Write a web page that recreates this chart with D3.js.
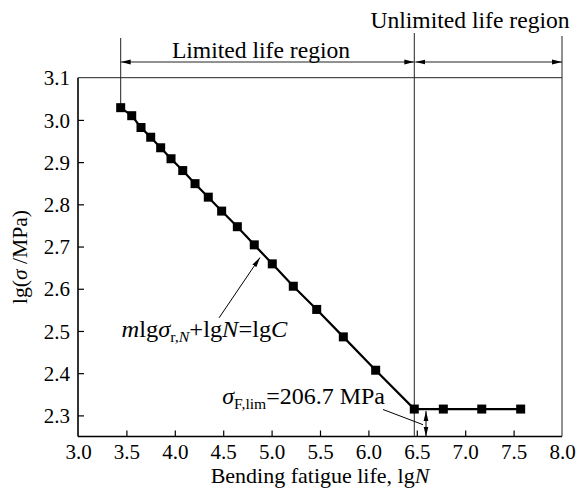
<!DOCTYPE html>
<html><head><meta charset="utf-8">
<script src="https://cdn.jsdelivr.net/npm/d3@7"></script>
<style>
html,body{margin:0;padding:0;background:#fff;}
</style></head>
<body><svg id="c" width="580" height="491"></svg>
<script>
// data
const lgN   = [3.441,3.555,3.651,3.751,3.854,3.961,4.082,4.209,4.346,4.484,4.646,4.821,5.007,5.224,5.466,5.741,6.075,6.474,6.774,7.171,7.573];
const lgSig = [3.029,3.010,2.982,2.959,2.934,2.908,2.880,2.849,2.817,2.784,2.747,2.704,2.659,2.606,2.551,2.486,2.407,2.315,2.315,2.315,2.315];
const xTicks = [3.0,3.5,4.0,4.5,5.0,5.5,6.0,6.5,7.0,7.5,8.0];
const yTicks = [2.3,2.4,2.5,2.6,2.7,2.8,2.9,3.0,3.1];
const kneeIndex = 17;

const FONT = "'Liberation Serif','Times New Roman',Times,Tinos";
const svg = d3.select("#c");
const x = d3.scaleLinear().domain([3,8]).range([78,562]);
const y = d3.scaleLinear().domain([2.25,3.1]).range([436.5,77.7]);
const FS = 20;   // base font size (serif only available up to ~21px, larger text is scaled)

const defs = svg.append("defs");
function mk(id, dir){
  const m = defs.append("marker").attr("id",id).attr("viewBox","0 0 10 6")
    .attr("refX", dir==="end"?10:0).attr("refY",3).attr("markerWidth",10).attr("markerHeight",6)
    .attr("markerUnits","userSpaceOnUse").attr("orient","auto");
  m.append("path").attr("d", dir==="end"?"M0,0.6L10,3L0,5.4Z":"M10,0.6L0,3L10,5.4Z").attr("fill","#000");
}
mk("ae","end"); mk("as","start");

function txt(sel){ return sel.style("font-family",FONT).attr("fill","#000"); }
function stext(px,py,kx,ky,rot){
  return txt(svg.append("text")).attr("x",0).attr("y",0).attr("font-size",FS)
    .attr("transform",`translate(${px},${py})${rot?` rotate(${rot})`:""} scale(${kx},${ky})`);
}

// axes
const gx = svg.append("g").attr("transform",`translate(0,${y(2.25)})`)
  .call(d3.axisBottom(x).tickValues(xTicks).tickFormat(d3.format(".1f")).tickSizeInner(-6).tickSizeOuter(0).tickPadding(8));
const gy = svg.append("g").attr("transform",`translate(${x(3)},0)`)
  .call(d3.axisLeft(y).tickValues(yTicks).tickFormat(d3.format(".1f")).tickSizeInner(-6).tickSizeOuter(0).tickPadding(8));
[gx,gy].forEach(g=>{
  g.attr("font-family",null).attr("font-size",null);
  g.select(".domain").attr("stroke","#000").attr("stroke-width",1.6);
  g.selectAll(".tick line").attr("stroke","#000").attr("stroke-width",1.2);
  txt(g.selectAll(".tick text")).attr("font-size",21);
});
gy.selectAll(".tick text").attr("dy","0.34em");
gy.select(".domain").attr("d",`M0,${y(3.1)}V${y(2.25)}`);
gx.select(".domain").attr("d",`M${x(3)},0H${x(8)}`);
gx.selectAll(".tick").filter(d=>d===3||d===8).select("line").remove();
gy.selectAll(".tick").filter(d=>d===3.1).select("line").remove();

// top frame
svg.append("line").attr("x1",x(3)).attr("x2",x(8)).attr("y1",y(3.1)).attr("y2",y(3.1)).attr("stroke","#222").attr("stroke-width",1);

// region lines
const topArrowY = 62;
function ln(x1,y1,x2,y2,opt={}){
  const l = svg.append("line").attr("x1",x1).attr("y1",y1).attr("x2",x2).attr("y2",y2)
    .attr("stroke",opt.stroke||"#222").attr("stroke-width",opt.w||1);
  if(opt.ms) l.attr("marker-start","url(#as)");
  if(opt.me) l.attr("marker-end","url(#ae)");
  return l;
}
ln(x(lgN[0]),38,x(lgN[0]),y(lgSig[0]));
ln(x(lgN[kneeIndex]),33,x(lgN[kneeIndex]),y(2.25));
ln(x(8),36,x(8),y(2.25));
ln(x(lgN[0]),topArrowY,x(lgN[kneeIndex]),topArrowY,{ms:1,me:1});
ln(x(lgN[kneeIndex])+1,topArrowY,x(8),topArrowY,{ms:1,me:1});

stext(261,58.3,1.18,1.18).attr("text-anchor","middle").text("Limited life region");
stext(470,28,1.18,1.18).attr("text-anchor","middle").text("Unlimited life region");

// data line
const pts = lgN.map((v,i)=>[v,lgSig[i]]);
svg.append("path").datum(pts).attr("fill","none").attr("stroke","#000").attr("stroke-width",2.2)
  .attr("d",d3.line().x(d=>x(d[0])).y(d=>y(d[1])));
const ms = 9;
svg.selectAll("rect.pt").data(pts).join("rect").attr("class","pt")
  .attr("x",d=>x(d[0])-ms/2).attr("y",d=>y(d[1])-ms/2).attr("width",ms).attr("height",ms).attr("fill","#000");

// formula annotation
ln(x(4.457),y(2.531),x(4.880),y(2.674),{me:1,stroke:"#000"});
const f = stext(x(3.45),y(2.485),1.22,1.12);
f.append("tspan").attr("font-style","italic").text("m");
f.append("tspan").text("lg");
f.append("tspan").attr("font-style","italic").text("σ");
f.append("tspan").attr("font-size",13).attr("dy",4).text("r,");
f.append("tspan").attr("font-size",13).attr("font-style","italic").text("N");
f.append("tspan").attr("dy",-4).text("+lg");
f.append("tspan").attr("font-style","italic").text("N");
f.append("tspan").text("=lg");
f.append("tspan").attr("font-style","italic").text("C");

// sigma lim annotation
const s = stext(x(4.49),y(2.326),1.2,1.12);
s.append("tspan").attr("font-style","italic").text("σ");
s.append("tspan").attr("font-size",13).attr("dy",4).text("F,lim");
s.append("tspan").attr("dy",-4).text("=206.7 MPa");
ln(x(6.151),y(2.314),x(6.564),y(2.278),{stroke:"#000"});
ln(x(6.595),y(lgSig[kneeIndex])+2,x(6.595),y(2.25),{ms:1,me:1,stroke:"#000"});

// axis titles
const xt = stext((x(3)+x(8))/2,483,1.1,1.05).attr("text-anchor","middle");
xt.append("tspan").text("Bending fatigue life, lg");
xt.append("tspan").attr("font-style","italic").text("N");
const yt = stext(27,(y(3.1)+y(2.25))/2,1.08,1.08,-90).attr("text-anchor","middle");
yt.append("tspan").text("lg(");
yt.append("tspan").attr("font-style","italic").text("σ");
yt.append("tspan").text(" /MPa)");
</script></body></html>
